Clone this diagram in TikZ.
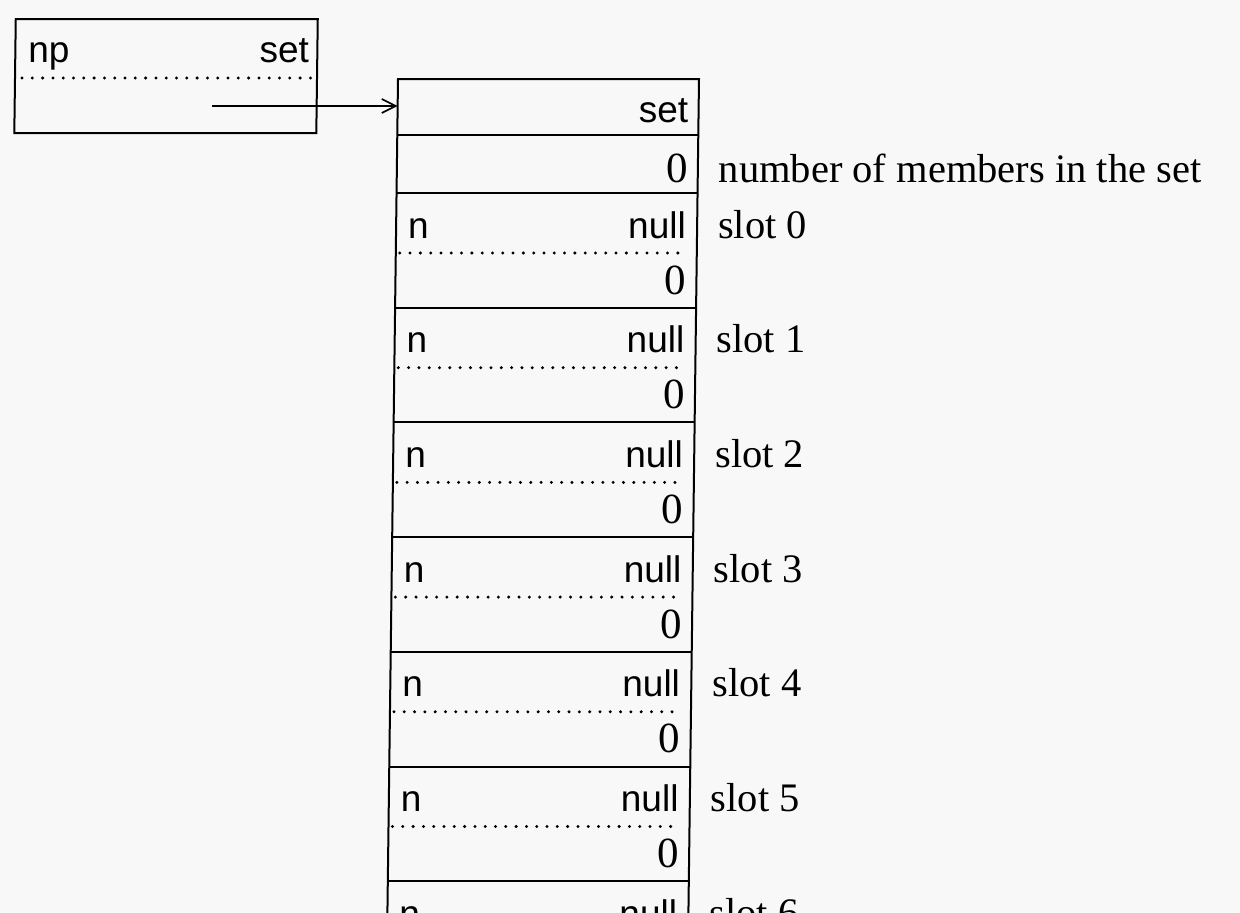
\documentclass[tikz,border=0pt]{standalone}
\usepackage{fontspec}
\setmainfont{Liberation Serif}
\newfontfamily\hsans{Liberation Sans}
\usetikzlibrary{arrows.meta}
\definecolor{paper}{RGB}{248,248,248}
\begin{document}
\begin{tikzpicture}[x=1pt,y=-1pt,
  box/.style={draw, line width=2pt},
  dotline/.style={line width=3.3pt, line cap=round, dash pattern=on 0pt off 10.3pt},
  sanslbl/.style={inner sep=0pt, font=\hsans\fontsize{37}{40}\selectfont},
  zerolbl/.style={inner sep=0pt, anchor=base east, font=\fontsize{43}{46}\selectfont},
  sidelbl/.style={inner sep=0pt, anchor=base west, font=\fontsize{40.5}{44}\selectfont},
  ptr/.style={line width=1.7pt, -{Straight Barb[length=14pt,width=14pt,line width=1.7pt]}}]
\useasboundingbox (0,0) rectangle (1240,913);
\clip (0,0) rectangle (1240,913);
\fill[paper] (0,0) rectangle (1240,913);
\begin{scope}[xslant=0.0127]
  % pointer box
  \draw[box] (16,19) rectangle (318,133);
  \draw[dotline] (23,78) -- (313,78);
  \node[sanslbl, anchor=base west] (np) at (29,62) {np};
  \node[sanslbl, anchor=base east] (npset) at (310,62) {set};
  \coordinate (ptrstart) at (213,106);
  \coordinate (colin) at (399,106);
  \draw[ptr] (ptrstart) -- (colin);
  % column
  \draw[box] (399,930) -- (399,79) -- (700,79) -- (700,930);
  \draw[box] (399,135) -- (700,135);
  \draw[box] (399,193) -- (700,193);
  \node[sanslbl, anchor=base east] (colset) at (690,122) {set};
  \node[zerolbl] (count) at (691,182) {0};
  \node[sidelbl] (countlbl) at (721,182) {number of members in the set};
  \foreach \k in {0,...,6} {
    \pgfmathsetmacro\T{193+114.7*\k}
    \pgfmathsetmacro\B{193+114.7*(\k+1)}
    \draw[box] (399,\B) -- (700,\B);
    \node[sanslbl, anchor=base west] (n\k) at (411,\T+45) {n};
    \node[sanslbl, anchor=base east] (null\k) at (689,\T+45) {null};
    \draw[dotline] (403,\T+60) -- (689,\T+60);
    \node[zerolbl] (z\k) at (690,\T+101) {0};
    \node[sidelbl] (slot\k) at (721,\T+45) {slot \k};
  }
\end{scope}
\end{tikzpicture}
\end{document}
